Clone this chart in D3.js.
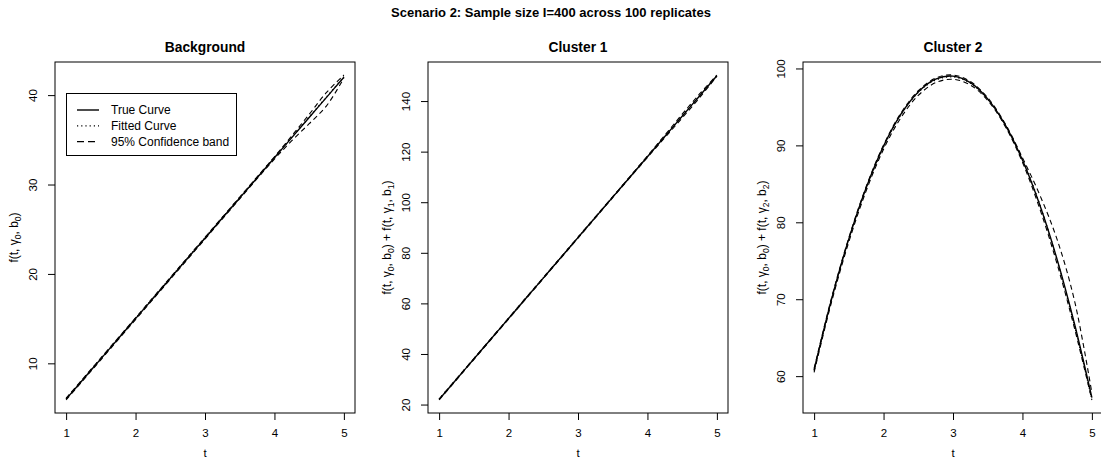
<!DOCTYPE html>
<html>
<head>
<meta charset="utf-8">
<script src="https://cdn.jsdelivr.net/npm/d3@7"></script>
<style>
  body { margin: 0; background: #fff; }
  svg { display: block; font-family: "Liberation Sans", Arial, Helvetica, sans-serif; }
</style>
</head>
<body>
<svg></svg>
<script>
const width = 1101, height = 462;

// time grid shared by every curve
const tGrid = [1, 1.25, 1.5, 1.75, 2, 2.25, 2.5, 2.75, 3, 3.25, 3.5, 3.75, 4, 4.25, 4.5, 4.75, 5];

// Background
const bgTrue  = [6, 8.25, 10.5, 12.75, 15, 17.25, 19.5, 21.75, 24, 26.25, 28.5, 30.75, 33, 35.25, 37.5, 39.75, 42];
const bgFit   = [6.05, 8.3, 10.55, 12.8, 15.05, 17.3, 19.55, 21.8, 24.05, 26.3, 28.55, 30.8, 33.05, 35.3, 37.55, 39.8, 42.05];
const bgUpper = [6.1, 8.35, 10.6, 12.85, 15.1, 17.35, 19.6, 21.85, 24.1, 26.35, 28.6, 30.85, 33.1, 35.45, 37.85, 40.3, 42.25];
const bgLower = [5.9, 8.15, 10.4, 12.65, 14.9, 17.15, 19.4, 21.65, 23.9, 26.15, 28.4, 30.65, 32.85, 34.9, 36.8, 38.8, 41.9];

// Cluster 1
const c1True  = [22, 30, 38, 46, 54, 62, 70, 78, 86, 94, 102, 110, 118, 126, 134, 142, 150];
const c1Fit   = [22.1, 30.1, 38.1, 46.1, 54.1, 62.1, 70.1, 78.1, 86.1, 94.1, 102.1, 110.1, 118.1, 126.1, 134.1, 142.1, 150.1];
const c1Upper = [22.2, 30.2, 38.2, 46.2, 54.2, 62.2, 70.2, 78.2, 86.2, 94.2, 102.2, 110.2, 118.3, 126.5, 134.8, 142.8, 150.3];
const c1Lower = [21.8, 29.8, 37.8, 45.8, 53.8, 61.8, 69.8, 77.8, 85.8, 93.8, 101.8, 109.8, 117.7, 125.5, 133.3, 141.3, 149.8];

// Cluster 2
const c2True  = [60.8, 69.95, 77.85, 84.5, 89.9, 94.05, 96.95, 98.6, 99.0, 98.15, 96.05, 92.7, 88.1, 82.25, 75.15, 66.8, 57.2];
const c2Fit   = [60.7, 69.9, 77.8, 84.4, 89.8, 94.0, 96.9, 98.5, 98.9, 98.1, 96.0, 92.7, 88.2, 82.3, 75.0, 66.5, 57.0];
const c2Upper = [61.0, 70.15, 78.0, 84.65, 90.05, 94.2, 97.1, 98.75, 99.15, 98.3, 96.2, 92.85, 88.4, 83.55, 77.75, 69.8, 57.8];
const c2Lower = [60.5, 69.6, 77.45, 84.1, 89.5, 93.6, 96.5, 98.15, 98.6, 97.85, 95.85, 92.5, 87.8, 81.75, 74.55, 66.2, 56.9];

// ticks
const xTicks  = [1, 2, 3, 4, 5];
const bgTicks = [10, 20, 30, 40];
const c1Ticks = [20, 40, 60, 80, 100, 120, 140];
const c2Ticks = [60, 70, 80, 90, 100];

const panelTitles = ["Background", "Cluster 1", "Cluster 2"];
const mainTitle = "Scenario 2: Sample size I=400 across 100 replicates";
const legendLabels = ["True Curve", "Fitted Curve", "95% Confidence band"];

const plotTop = 62, plotBottom = 413, plotW = 300;
const lefts = [55, 428, 803];

const panels = [
  {title: panelTitles[0], series: [bgTrue, bgFit, bgUpper, bgLower], ticks: bgTicks},
  {title: panelTitles[1], series: [c1True, c1Fit, c1Upper, c1Lower], ticks: c1Ticks},
  {title: panelTitles[2], series: [c2True, c2Fit, c2Upper, c2Lower], ticks: c2Ticks}
];

// line styles: true, fitted, upper, lower
const styles = [
  {w: 1.4, dash: null},
  {w: 1.3, dash: "1.2,3"},
  {w: 1.1, dash: "5,3.5"},
  {w: 1.1, dash: "5,3.5"}
];

const svg = d3.select("svg")
  .attr("width", width)
  .attr("height", height);

svg.append("text")
  .attr("x", 551)
  .attr("y", 17)
  .attr("text-anchor", "middle")
  .style("font-weight", "bold")
  .style("font-size", "13px")
  .text(mainTitle);

function fLabel(text, k) {
  // f(t, γk, bk)
  text.append("tspan").text("f(t, γ");
  text.append("tspan").attr("dy", 3).style("font-size", "8.5px").text(k);
  text.append("tspan").attr("dy", -3).text(", b");
  text.append("tspan").attr("dy", 3).style("font-size", "8.5px").text(k);
  text.append("tspan").attr("dy", -3).text(")");
}

panels.forEach((p, i) => {
  const left = lefts[i];
  const g = svg.append("g");

  const x = d3.scaleLinear()
    .domain([0.84, 5.16])
    .range([left, left + plotW]);

  const ext = d3.extent(p.series.flat());
  const pad = (ext[1] - ext[0]) * 0.04;
  const y = d3.scaleLinear()
    .domain([ext[0] - pad, ext[1] + pad])
    .range([plotBottom, plotTop]);

  // curves
  const line = d3.line()
    .x((d, j) => x(tGrid[j]))
    .y(d => y(d))
    .curve(d3.curveCatmullRom);

  p.series.forEach((s, k) => {
    g.append("path")
      .attr("d", line(s))
      .attr("fill", "none")
      .attr("stroke", "#000")
      .attr("stroke-width", styles[k].w)
      .attr("stroke-dasharray", styles[k].dash);
  });

  // box
  g.append("rect")
    .attr("x", left)
    .attr("y", plotTop)
    .attr("width", plotW)
    .attr("height", plotBottom - plotTop)
    .attr("fill", "none")
    .attr("stroke", "#000")
    .attr("stroke-width", 1);

  // x axis
  const xa = g.append("g")
    .attr("transform", `translate(0,${plotBottom})`)
    .call(d3.axisBottom(x).tickValues(xTicks).tickSize(7).tickSizeOuter(0).tickFormat(d3.format("d")));
  xa.select(".domain").remove();
  xa.selectAll("text")
    .attr("y", 16)
    .attr("dy", "0.71em")
    .style("font-size", "11.5px")
    .style("font-family", "inherit");

  // y axis
  const ya = g.append("g")
    .attr("transform", `translate(${left},0)`)
    .call(d3.axisLeft(y).tickValues(p.ticks).tickSize(7).tickSizeOuter(0).tickFormat(d3.format("d")));
  ya.select(".domain").remove();
  ya.selectAll("text")
    .attr("x", null)
    .attr("dy", null)
    .attr("transform", "translate(-18,0) rotate(-90)")
    .attr("text-anchor", "middle")
    .style("font-size", "11.5px")
    .style("font-family", "inherit");

  // panel title
  g.append("text")
    .attr("x", left + plotW / 2)
    .attr("y", 52)
    .attr("text-anchor", "middle")
    .style("font-weight", "bold")
    .style("font-size", "13.8px")
    .text(p.title);

  // x label
  g.append("text")
    .attr("x", left + plotW / 2)
    .attr("y", 457)
    .attr("text-anchor", "middle")
    .style("font-size", "11.5px")
    .text("t");

  // y label
  const yl = g.append("text")
    .attr("transform", `translate(${left - 37},${(plotTop + plotBottom) / 2}) rotate(-90)`)
    .attr("text-anchor", "middle")
    .style("font-size", "12px");
  fLabel(yl, 0);
  if (i > 0) {
    yl.append("tspan").text(" + ");
    fLabel(yl, i);
  }
});

// legend in the Background panel
const lg = svg.append("g");
lg.append("rect")
  .attr("x", 66.5)
  .attr("y", 93.5)
  .attr("width", 170)
  .attr("height", 62)
  .attr("fill", "#fff")
  .attr("stroke", "#000");

legendLabels.forEach((lab, k) => {
  const yy = 110 + k * 15.8;
  lg.append("line")
    .attr("x1", 77).attr("x2", 99)
    .attr("y1", yy).attr("y2", yy)
    .attr("stroke", "#000")
    .attr("stroke-width", styles[k].w)
    .attr("stroke-dasharray", k === 2 ? "7,4" : styles[k].dash);
  lg.append("text")
    .attr("x", 111)
    .attr("y", yy + 4)
    .style("font-size", "12px")
    .text(lab);
});
</script>
</body>
</html>
